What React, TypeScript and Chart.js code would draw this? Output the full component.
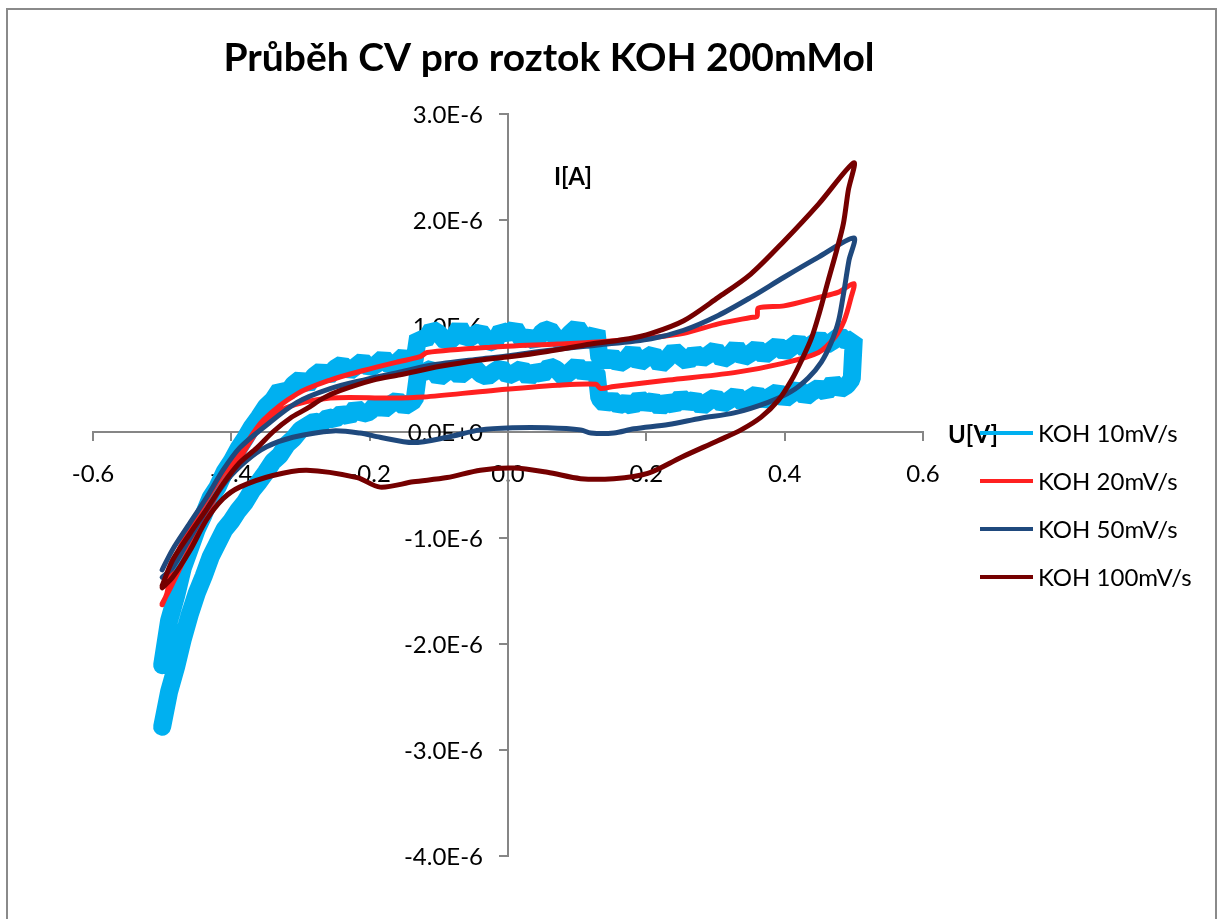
import React, { useEffect, useRef } from "react";
import { Chart, registerables } from "chart.js";

Chart.register(...registerables);

// ---------------- data ----------------
const chartTitle = "Průběh CV pro roztok KOH 200mMol";
const xAxisTitle = "U[V]";
const yAxisTitle = "I[A]";
const seriesLabels = ["KOH 10mV/s", "KOH 20mV/s", "KOH 50mV/s", "KOH 100mV/s"];
const seriesColors = ["#00B0F0", "#FF2020", "#1F497D", "#750000"];

// KOH 10 mV/s (noisy), U in V, I in µA
const u10 = [
  -0.5, -0.49, -0.48, -0.47, -0.46, -0.45, -0.44, -0.43, -0.42, -0.41, -0.4, -0.39, -0.38, -0.37, -0.36, -0.35, -0.34, -0.33, -0.32, -0.31, -0.3, -0.29, -0.28, -0.27, -0.26, -0.25, -0.24, -0.23, -0.22, -0.21, -0.2, -0.19, -0.18, -0.17, -0.16, -0.15, -0.14,
  -0.135,
  -0.13, -0.12, -0.11, -0.1, -0.09, -0.08, -0.07, -0.06, -0.05, -0.04, -0.03, -0.02, -0.01, 0.0, 0.01, 0.02, 0.03, 0.04, 0.05, 0.06, 0.07, 0.08, 0.09, 0.1, 0.11, 0.12,
  0.128, 0.132,
  0.14, 0.15, 0.16, 0.17, 0.18, 0.19, 0.2, 0.21, 0.22, 0.23, 0.24, 0.25, 0.26, 0.27, 0.28, 0.29, 0.3, 0.31, 0.32, 0.33, 0.34, 0.35, 0.36, 0.37, 0.38, 0.39, 0.4, 0.41, 0.42, 0.43, 0.44, 0.45, 0.46, 0.47, 0.48, 0.49, 0.5,
  0.497,
  0.49, 0.48, 0.47, 0.46, 0.45, 0.44, 0.43, 0.42, 0.41, 0.4, 0.39, 0.38, 0.37, 0.36, 0.35, 0.34, 0.33, 0.32, 0.31, 0.3, 0.29, 0.28, 0.27, 0.26, 0.25, 0.24, 0.23, 0.22, 0.21, 0.2, 0.19, 0.18, 0.17, 0.16, 0.15, 0.14,
  0.132, 0.128,
  0.12, 0.11, 0.1, 0.09, 0.08, 0.07, 0.06, 0.05, 0.04, 0.03, 0.02, 0.01, 0.0, -0.01, -0.02, -0.03, -0.04, -0.05, -0.06, -0.07, -0.08, -0.09, -0.1, -0.11, -0.12, -0.13,
  -0.135,
  -0.14, -0.15, -0.16, -0.17, -0.18, -0.19, -0.2, -0.21, -0.22, -0.23, -0.24, -0.25, -0.26, -0.27, -0.28, -0.29, -0.3, -0.31, -0.32, -0.33, -0.34, -0.35, -0.36, -0.37, -0.38, -0.39, -0.4, -0.41, -0.42, -0.43, -0.44, -0.45, -0.46, -0.47, -0.48, -0.49, -0.5,
];
const i10 = [
  -2.2, -1.78, -1.55, -1.28, -1.1, -0.92, -0.78, -0.62, -0.52, -0.38, -0.28, -0.16, -0.06, 0.05, 0.14, 0.24, 0.3, 0.4, 0.36, 0.45, 0.5, 0.44, 0.53, 0.58, 0.52, 0.6, 0.64, 0.57, 0.62, 0.67, 0.6, 0.64, 0.7, 0.62, 0.66, 0.72, 0.64,
  0.68,
  0.9, 0.86, 0.97, 0.93, 0.85, 0.88, 0.99, 0.87, 0.91, 0.95, 0.86, 0.84, 0.96, 0.92, 0.98, 0.87, 0.9, 0.85, 0.95, 0.97, 0.88, 0.86, 0.93, 0.99, 0.89, 0.87,
  0.95, 0.7,
  0.66, 0.72, 0.64, 0.68, 0.76, 0.65, 0.7, 0.74, 0.63, 0.69, 0.77, 0.71, 0.66, 0.75, 0.69, 0.73, 0.78, 0.68, 0.72, 0.8, 0.7, 0.74, 0.79, 0.72, 0.77, 0.82, 0.75, 0.8, 0.85, 0.78, 0.83, 0.88, 0.82, 0.86, 0.91, 0.85, 0.88,
  0.5,
  0.44, 0.4, 0.47, 0.37, 0.42, 0.38, 0.33, 0.41, 0.36, 0.31, 0.38, 0.34, 0.29, 0.36, 0.32, 0.27, 0.35, 0.3, 0.26, 0.33, 0.29, 0.24, 0.31, 0.27, 0.33, 0.25, 0.29, 0.23, 0.3, 0.26, 0.32, 0.24, 0.28, 0.25, 0.31, 0.26,
  0.32, 0.56,
  0.6, 0.55, 0.63, 0.57, 0.52, 0.59, 0.62, 0.54, 0.58, 0.51, 0.6, 0.56, 0.53, 0.61, 0.57, 0.52, 0.55, 0.62, 0.58, 0.53, 0.59, 0.56, 0.51, 0.6, 0.57, 0.55,
  0.3,
  0.28, 0.24, 0.3, 0.26, 0.21, 0.27, 0.19, 0.17, 0.23, 0.14, 0.18, 0.12, 0.14, 0.08, 0.1, 0.06, 0.02, -0.06, -0.12, -0.22, -0.28, -0.38, -0.47, -0.55, -0.66, -0.74, -0.84, -0.92, -1.05, -1.18, -1.36, -1.52, -1.72, -1.95, -2.22, -2.45, -2.78,
];

// KOH 20 mV/s
const u20 = [
  -0.5, -0.493, -0.485, -0.46, -0.436, -0.412, -0.388, -0.354, -0.305, -0.257, -0.209, -0.16, -0.127, -0.117, -0.025, 0.072, 0.13, 0.207, 0.254, 0.304, 0.351, 0.36, 0.362, 0.399, 0.449, 0.478, 0.5,
  0.496, 0.486, 0.472, 0.449, 0.399, 0.327, 0.232, 0.153, 0.134, 0.127, 0.072, -0.025, -0.122, -0.17, -0.257, -0.32, -0.354, -0.388, -0.412, -0.436, -0.46, -0.485, -0.5,
];
const i20 = [
  -1.63, -1.52, -1.26, -0.9, -0.64, -0.39, -0.2, 0.11, 0.36, 0.49, 0.58, 0.66, 0.71, 0.75, 0.8, 0.83, 0.85, 0.89, 0.93, 1.02, 1.08, 1.09, 1.17, 1.19, 1.27, 1.32, 1.4,
  1.27, 1.05, 0.89, 0.75, 0.65, 0.56, 0.49, 0.43, 0.41, 0.45, 0.44, 0.39, 0.33, 0.32, 0.32, 0.23, 0.08, -0.25, -0.48, -0.78, -1.09, -1.43, -1.62,
];

// KOH 50 mV/s
const u50 = [
  -0.5, -0.485, -0.46, -0.436, -0.412, -0.388, -0.354, -0.305, -0.257, -0.209, -0.16, -0.112, -0.04, 0.002, 0.057, 0.13, 0.207, 0.254, 0.304, 0.351, 0.399, 0.449, 0.5,
  0.493, 0.486, 0.478, 0.467, 0.453, 0.434, 0.409, 0.376, 0.327, 0.279, 0.232, 0.182, 0.153, 0.12, 0.105, 0.057, 0.008, -0.04, -0.088, -0.137, -0.185, -0.214, -0.253, -0.311, -0.349, -0.378, -0.407, -0.436, -0.464, -0.485, -0.5,
];
const i50 = [
  -1.3, -1.11, -0.86, -0.62, -0.36, -0.15, 0.04, 0.28, 0.41, 0.49, 0.56, 0.63, 0.69, 0.72, 0.77, 0.82, 0.88, 0.96, 1.1, 1.27, 1.46, 1.65, 1.83,
  1.62, 1.34, 1.05, 0.84, 0.66, 0.51, 0.38, 0.28, 0.18, 0.13, 0.07, 0.03, -0.01, -0.01, 0.02, 0.04, 0.04, 0.02, -0.05, -0.1, -0.05, -0.01, 0.01, -0.05, -0.14, -0.27, -0.46, -0.74, -1.05, -1.28, -1.37,
];

// KOH 100 mV/s
const u100 = [
  -0.5, -0.485, -0.46, -0.435, -0.412, -0.388, -0.363, -0.34, -0.315, -0.291, -0.267, -0.243, -0.195, -0.156, -0.098, -0.04, 0.002, 0.057, 0.12, 0.175, 0.207, 0.254, 0.304, 0.351, 0.399, 0.449, 0.5,
  0.492, 0.485, 0.475, 0.463, 0.45, 0.439, 0.424, 0.41, 0.391, 0.366, 0.337, 0.304, 0.25, 0.202, 0.153, 0.105, 0.057, 0.008, -0.04, -0.088, -0.137, -0.185, -0.218, -0.291, -0.34, -0.388, -0.412, -0.436, -0.46, -0.485, -0.5,
];
const i100 = [
  -1.45, -1.21, -0.96, -0.72, -0.49, -0.29, -0.15, 0.0, 0.13, 0.22, 0.32, 0.39, 0.49, 0.54, 0.62, 0.68, 0.71, 0.76, 0.83, 0.88, 0.93, 1.05, 1.27, 1.49, 1.8, 2.15, 2.54,
  2.28, 1.97, 1.71, 1.43, 1.12, 0.89, 0.67, 0.49, 0.3, 0.14, 0.02, -0.08, -0.24, -0.39, -0.44, -0.44, -0.38, -0.34, -0.36, -0.43, -0.47, -0.52, -0.43, -0.36, -0.41, -0.52, -0.63, -0.83, -1.12, -1.37, -1.47,
];

const seriesU = [u10, u20, u50, u100];
const seriesI = [i10, i20, i50, i100];
const seriesWidths = [18, 5, 5, 5];
const seriesTension = [0, 0.3, 0.3, 0.3];
const seriesJoin = ["bevel", "round", "round", "round"];

const xMin = -0.6;
const xMax = 0.6;
const xStep = 0.2;
const yMin = -4e-6;
const yMax = 3e-6;
const yStep = 1e-6;

// ---------------- formatting ----------------
function fmtX(v: number): string {
  if (Math.abs(v) < 1e-9) return "0.0";
  return v.toFixed(1);
}
function fmtY(v: number): string {
  if (Math.abs(v) < 1e-15) return "0.0E+0";
  const e = Math.floor(Math.log10(Math.abs(v)) + 1e-9);
  const m = v / Math.pow(10, e);
  return m.toFixed(1) + "E" + (e >= 0 ? "+" + e : String(e));
}

const AXIS_GRAY = "#868686";
const FONT = "Lato";

const decorPlugin = {
  id: "decor",
  beforeDraw(chart: any) {
    const ctx = chart.ctx;
    ctx.save();
    ctx.fillStyle = "#ffffff";
    ctx.fillRect(0, 0, chart.width, chart.height);
    ctx.strokeStyle = "#8a8a8a";
    ctx.lineWidth = 2;
    ctx.strokeRect(7, 9, 1209, 1100);
    ctx.restore();
  },
  beforeDatasetsDraw(chart: any) {
    // y tick labels, placed left of the crossing y axis (outside tick marks)
    const ctx = chart.ctx;
    const xs = chart.scales.x;
    const ys = chart.scales.y;
    const x0 = xs.getPixelForValue(0);
    ctx.save();
    ctx.fillStyle = "#000";
    ctx.font = `24px ${FONT}`;
    ctx.textAlign = "right";
    ctx.textBaseline = "middle";
    for (const t of ys.ticks) {
      ctx.fillText(fmtY(t.value), x0 - 25, ys.getPixelForValue(t.value) + 1);
    }
    ctx.restore();
  },
  afterDraw(chart: any) {
    const ctx = chart.ctx;
    ctx.save();
    ctx.fillStyle = "#000";
    // title
    ctx.font = `bold 39px ${FONT}`;
    ctx.textAlign = "center";
    ctx.textBaseline = "alphabetic";
    ctx.fillText(chartTitle, 549, 71);
    // axis titles
    ctx.font = `bold 24px ${FONT}`;
    ctx.textBaseline = "middle";
    ctx.fillText(yAxisTitle, 573, 177);
    ctx.fillText(xAxisTitle, 973, 435);
    // legend
    ctx.font = `24px ${FONT}`;
    ctx.textAlign = "left";
    for (let k = 0; k < seriesLabels.length; k++) {
      const y = 433 + 48 * k;
      ctx.strokeStyle = seriesColors[k];
      ctx.lineWidth = 4;
      ctx.beginPath();
      ctx.moveTo(980, y);
      ctx.lineTo(1033, y);
      ctx.stroke();
      ctx.fillStyle = "#000";
      ctx.fillText(seriesLabels[k], 1038, y + 1);
    }
    ctx.restore();
  },
};

export default function App() {
  const ref = useRef<HTMLCanvasElement>(null);
  useEffect(() => {
    const canvas = ref.current;
    if (!canvas) return;
    const datasets = seriesLabels.map((label, k) => ({
      label,
      data: seriesU[k].map((u, j) => ({ x: u, y: seriesI[k][j] * 1e-6 })),
      showLine: true,
      borderColor: seriesColors[k],
      backgroundColor: seriesColors[k],
      borderWidth: seriesWidths[k],
      pointRadius: 0,
      pointHoverRadius: 0,
      tension: seriesTension[k],
      order: seriesLabels.length - k,
      borderJoinStyle: seriesJoin[k],
      borderCapStyle: "round",
    }));
    const chart = new Chart(canvas, {
      type: "scatter",
      data: { datasets },
      options: {
        animation: false,
        responsive: false,
        events: [],
        layout: { padding: { left: 93, right: 294, top: 114, bottom: 63 } },
        plugins: {
          legend: { display: false },
          title: { display: false },
          tooltip: { enabled: false },
        },
        scales: {
          x: {
            type: "linear",
            min: xMin,
            max: xMax,
            position: { y: 0 },
            ticks: {
              stepSize: xStep,
              autoSkip: false,
              maxRotation: 0,
              color: "#000",
              padding: 20,
              font: { family: FONT, size: 24 },
              callback: (v: any) => fmtX(Number(v)),
            },
            grid: {
              display: true,
              drawOnChartArea: false,
              drawTicks: true,
              tickLength: 8,
              color: AXIS_GRAY,
              lineWidth: 2,
            },
            border: { display: true, color: AXIS_GRAY, width: 2 },
          },
          y: {
            type: "linear",
            min: yMin,
            max: yMax,
            position: { x: 0 },
            ticks: {
              stepSize: yStep,
              autoSkip: false,
              display: false,
            },
            grid: {
              display: true,
              drawOnChartArea: false,
              drawTicks: true,
              tickLength: 8,
              color: AXIS_GRAY,
              lineWidth: 2,
            },
            border: { display: true, color: AXIS_GRAY, width: 2 },
          },
        },
      },
      plugins: [decorPlugin],
    } as any);
    return () => chart.destroy();
  }, []);
  return (
    <canvas
      ref={ref}
      width={1217}
      height={919}
      style={{ position: "fixed", left: 0, top: 0, width: 1217, height: 919 }}
    />
  );
}
